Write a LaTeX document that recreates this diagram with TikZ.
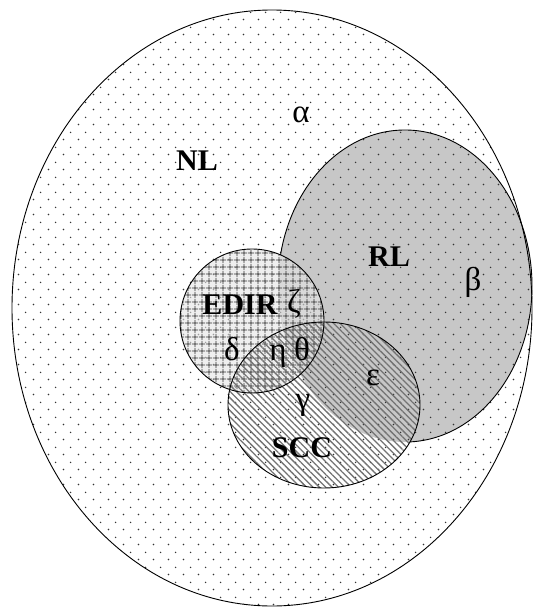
\documentclass[tikz,border=0pt]{standalone}
\usepackage{fontspec}
\setmainfont{Liberation Serif}
\usetikzlibrary{patterns,patterns.meta}

\pgfdeclarepatternformonly{stagdots}{\pgfqpoint{0pt}{0pt}}{\pgfqpoint{15pt}{15pt}}{\pgfqpoint{15pt}{15pt}}{%
  \pgfpathcircle{\pgfqpoint{3.75pt}{3.75pt}}{0.85pt}%
  \pgfpathcircle{\pgfqpoint{11.25pt}{11.25pt}}{0.85pt}%
  \pgfusepath{fill}}

\begin{document}
\begin{tikzpicture}[x=1pt,y=-1pt,
  outline/.style={draw=black,line width=0.9pt},
  boldlabel/.style={font=\fontsize{30}{30}\selectfont\bfseries, inner sep=0pt, anchor=base},
  greeklabel/.style={font=\fontsize{33}{33}\selectfont, inner sep=0pt, anchor=base},
  dotfill/.style={pattern=stagdots, pattern color=black!80},
  gridfill/.style={pattern={Hatch[angle=0,distance=6.5pt,line width=0.9pt]}, pattern color=black!80},
  linefill/.style={pattern={Lines[angle=-45,distance=4.5pt,line width=1.3pt]}, pattern color=black!55}]
\useasboundingbox (0,0) rectangle (533,607);
\fill[white] (0,0) rectangle (533,607);

% outer NL
\fill[white] (272,308) ellipse [x radius=260, y radius=298];
% RL gray
\fill[black!22] (405,286) ellipse [x radius=127, y radius=156];
% dots over NL
\fill[dotfill] (272,308) ellipse [x radius=260, y radius=298];
% EDIR
\fill[black!10, fill opacity=0.6] (252,321) circle [radius=72];
\fill[gridfill] (252,321) circle [radius=72];
% SCC
\fill[linefill] (324,405) ellipse [x radius=96, y radius=83];

% outlines
\draw[outline] (272,308) ellipse [x radius=260, y radius=298];
\begin{scope}
  \clip (0,0) -- (0,607) -- (533,607) -- (533,0) -- cycle
        (324,321) arc [start angle=0, end angle=360, x radius=72, y radius=72];
  \begin{scope}
    \clip (0,0) -- (0,607) -- (533,607) -- (533,0) -- cycle
          (420,405) arc [start angle=0, end angle=360, x radius=96, y radius=83];
    \draw[outline] (405,286) ellipse [x radius=127, y radius=156];
  \end{scope}
\end{scope}
\draw[outline] (252,321) circle [radius=72];
\draw[outline] (324,405) ellipse [x radius=96, y radius=83];

% labels
\node[boldlabel] (nl) at (197,170) {NL};
\node[boldlabel] (rl) at (389,266) {RL};
\node[boldlabel] (edir) at (240,314) {EDIR};
\node[boldlabel] (scc) at (302,457) {SCC};
\node[greeklabel] (alpha) at (301,123) {α};
\node[greeklabel] (beta) at (473,290) {β};
\node[greeklabel] (gamma) at (303,409) {γ};
\node[greeklabel] (delta) at (232,360) {δ};
\node[greeklabel] (eps) at (373,385) {ε};
\node[greeklabel] (zeta) at (294,312) {ζ};
\node[greeklabel] (eta) at (278,360) {η};
\node[greeklabel] (theta) at (302,360) {θ};
\end{tikzpicture}
\end{document}
